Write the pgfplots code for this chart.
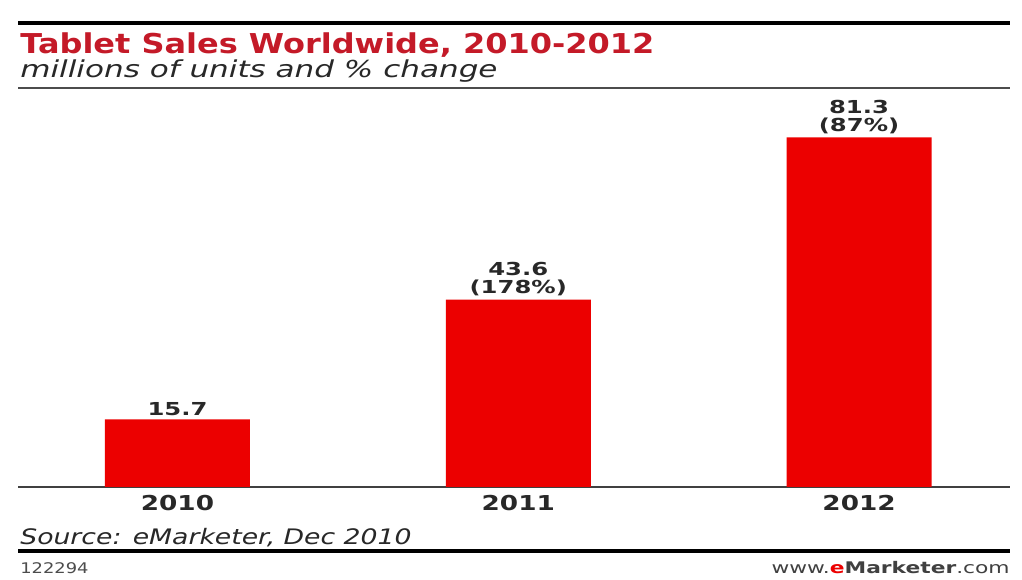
\documentclass[border=0pt]{standalone}
\usepackage{pgfplots}
\pgfplotsset{compat=1.18}
\usepackage{fontspec}
\setmainfont{DejaVu Sans}
\definecolor{barred}{RGB}{236,0,0}
\definecolor{titlered}{RGB}{196,26,40}
\definecolor{txt}{RGB}{40,40,40}
\begin{document}
\begin{tikzpicture}[x=0.75pt,y=0.75pt]
\path[use as bounding box, fill=white] (0,0) rectangle (1022,579);
% top rule
\draw[line width=3pt, black] (18,556) -- (1010,556);
\node[anchor=base west, inner sep=0, text=titlered, xscale=1.17,
  font=\bfseries\fontsize{20.5}{24}\selectfont] at (20,525) {Tablet Sales Worldwide, 2010-2012};
\node[anchor=base west, inner sep=0, text=txt, xscale=1.33,
  font=\itshape\fontsize{17.5}{21}\selectfont] at (20,501) {millions of units and \% change};
\draw[line width=1.5pt, black!70] (18,491) -- (1010,491);
\begin{axis}[
  at={(13.5pt,69pt)}, anchor=south west, scale only axis,
  width=744pt, height=290.25pt,
  xmin=-0.468, xmax=2.443, ymin=0, ymax=90,
  axis x line*=bottom, axis y line=none,
  x axis line style={-, draw=black!75, line width=1.5pt},
  xtick={0,1,2}, xticklabels={2010,2011,2012},
  major tick length=0pt,
  xticklabel style={font=\bfseries\fontsize{15.4}{18}\selectfont, text=txt,
    anchor=base, inner sep=0pt, yshift=-18pt, xscale=1.28},
  ytick=\empty,
  ybar, bar width=108.75pt,
  nodes near coords, point meta=explicit symbolic,
  nodes near coords style={font=\bfseries\fontsize{13.4}{13.5}\selectfont, text=txt,
    align=center, anchor=south, inner sep=0pt, yshift=2.5pt, xscale=1.36},
  clip=false,
]
\addplot[fill=barred, draw=none] coordinates {
  (0,15.7) [15.7]
  (1,43.6) [43.6\\(178\%)]
  (2,81.3) [81.3\\(87\%)]
};
\end{axis}
\node[anchor=base west, inner sep=0, text=txt, xscale=1.25,
  font=\itshape\fontsize{16}{19}\selectfont] at (20,35) {Source: eMarketer, Dec 2010};
\draw[line width=3pt, black] (18,28) -- (1010,28);
\node[anchor=base west, inner sep=0, text=black!70, xscale=1.22,
  font=\fontsize{11}{13}\selectfont] at (20,6) {122294};
\node[anchor=base east, inner sep=0, text=black!75, xscale=1.36,
  font=\fontsize{12}{14}\selectfont] at (1010,6) {www.{\bfseries\color{barred}e}{\bfseries Marketer}.com};
\end{tikzpicture}
\end{document}
